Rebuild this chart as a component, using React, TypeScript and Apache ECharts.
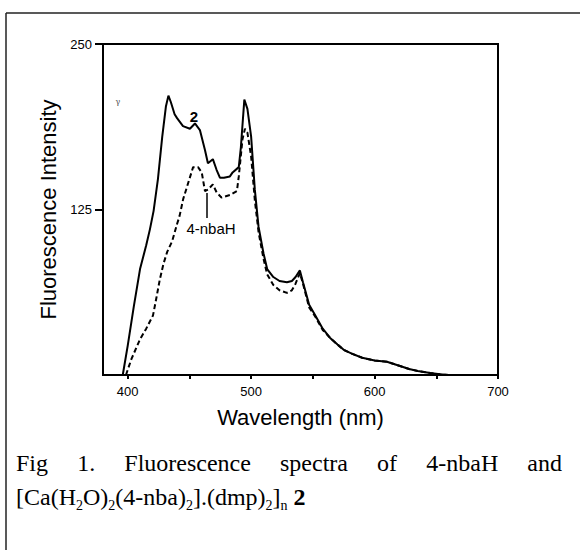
import React, { useEffect, useRef } from "react";
import * as echarts from "echarts";

// Sample "2" (solid line)
const wl2 = [396, 400, 405, 410, 415, 418, 421, 424.5, 428, 431, 433, 435, 438, 440, 444.8, 450.4, 454.5, 458.5, 462.6, 465, 469, 472, 474.7, 478, 482.8, 485, 490, 491.7, 494.5, 497, 500, 503, 506, 510, 513, 518, 523, 529, 533, 536, 539.5, 542, 547, 552, 558, 564, 570, 575, 582, 590, 600, 610, 620, 628, 635, 645, 653, 660, 700];
const int2 = [0, 22, 52, 80, 98, 110, 124, 148, 180, 203, 211, 206, 197, 194, 188, 186, 190, 185, 170, 160, 163, 155, 149, 149, 150, 153, 157, 172, 208, 201, 180, 140, 112, 92, 80, 74, 71, 70, 71, 74, 79, 70, 53, 45, 35, 28, 23, 19, 16, 13, 11, 10, 7, 4.5, 3, 1.5, 0.5, 0, 0];

// 4-nbaH (dashed line)
const wlNba = [398.6, 403, 410, 415, 420.5, 423, 426, 429, 432, 436, 440, 442, 445, 448, 453, 457, 460, 462.6, 465, 469, 472, 476, 483, 488.5, 490, 493, 495, 497, 500, 503, 506, 510, 513, 518, 523, 529, 533, 536, 539.5, 542, 547, 552, 558, 564, 570, 575, 582, 590, 600, 610, 620, 628, 635, 645, 653, 660, 700];
const intNba = [0, 12, 27, 35, 45, 57, 72, 84, 93, 101, 114, 120, 133, 142, 157, 157, 153, 139, 140, 144, 138, 134, 136, 139, 150, 178, 186, 183, 165, 132, 108, 88, 76, 68, 64, 62, 64, 69, 77, 69, 51, 44, 34, 28, 23, 19, 16, 13, 11, 10, 7, 4.5, 3, 1.5, 0.5, 0, 0];

const xLabelValues = [400, 500, 600, 700];
const xTickValues = [400, 450, 500, 550, 600, 650, 700];
const yLabelValues = [125, 250];

const captionLine1 = ["Fig", "1.", "Fluorescence", "spectra", "of", "4-nbaH", "and"];

export default function App() {
  const ref = useRef<HTMLDivElement>(null);
  useEffect(() => {
    if (!ref.current) return;
    const chart = echarts.init(ref.current, null, { renderer: "svg" });

    const capFont = "Liberation Serif";
    const capSize = 24;
    const canvas = document.createElement("canvas");
    const ctx = canvas.getContext("2d")!;
    ctx.font = `${capSize}px "${capFont}"`;
    const widths = captionLine1.map((w) => ctx.measureText(w).width);
    const left = 16, right = 562;
    const total = widths.reduce((a, b) => a + b, 0);
    const gap = (right - left - total) / (captionLine1.length - 1);
    let cx = left;
    const wordEls: any[] = captionLine1.map((w, i) => {
      const el = {
        type: "text",
        x: cx,
        y: 463,
        style: { text: w, font: `${capSize}px "${capFont}"`, fill: "#000", verticalAlign: "middle", align: "left" },
      };
      cx += widths[i] + gap;
      return el;
    });

    const option: any = {
      animation: false,
      backgroundColor: "#fff",
      grid: { left: 103, right: 82, top: 44, bottom: 175, show: true, borderColor: "#000", borderWidth: 2, backgroundColor: "transparent" },
      xAxis: {
        type: "value",
        min: 380,
        max: 700,
        name: "Wavelength (nm)",
        nameLocation: "middle",
        nameGap: 31,
        nameTextStyle: { fontFamily: "Liberation Sans", fontSize: 22, color: "#000" },
        axisLine: { lineStyle: { color: "#000", width: 2 } },
        axisTick: { show: true, inside: false, length: 4, customValues: xTickValues, lineStyle: { color: "#000", width: 2 } },
        axisLabel: { customValues: xLabelValues, margin: 10, fontFamily: "Liberation Sans", fontSize: 13, color: "#000" },
        splitLine: { show: false },
      },
      yAxis: {
        type: "value",
        min: 0,
        max: 250,
        name: "Fluorescence Intensity",
        nameLocation: "middle",
        nameGap: 44,
        nameTextStyle: { fontFamily: "Liberation Sans", fontSize: 22, color: "#000" },
        axisLine: { lineStyle: { color: "#000", width: 2 } },
        axisTick: { show: true, length: 8, customValues: yLabelValues, lineStyle: { color: "#000", width: 2 } },
        axisLabel: { customValues: yLabelValues, margin: 11, fontFamily: "Liberation Sans", fontSize: 13, color: "#000" },
        splitLine: { show: false },
      },
      series: [
        {
          name: "2",
          type: "line",
          data: wl2.map((x, i) => [x, int2[i]]),
          showSymbol: false,
          lineStyle: { color: "#000", width: 2 },
          z: 3,
        },
        {
          name: "4-nbaH",
          type: "line",
          data: wlNba.map((x, i) => [x, intNba[i]]),
          showSymbol: false,
          lineStyle: { color: "#000", width: 2, type: [5, 3] },
          z: 2,
        },
      ],
      graphic: [
        { type: "line", shape: { x1: 6, y1: 13, x2: 580, y2: 13 }, style: { stroke: "#222", lineWidth: 1.5 } },
        { type: "line", shape: { x1: 6, y1: 13, x2: 6, y2: 550 }, style: { stroke: "#222", lineWidth: 1.5 } },
        { type: "text", x: 118, y: 101, style: { text: "γ", font: '8px "DejaVu Serif"', fill: "#555", align: "center", verticalAlign: "middle" } },
        { type: "text", x: 194, y: 116, style: { text: "2", font: 'bold 15px "Liberation Sans"', fill: "#000", align: "center", verticalAlign: "middle" } },
        { type: "line", shape: { x1: 207, y1: 193, x2: 207, y2: 218 }, style: { stroke: "#000", lineWidth: 1.5 } },
        { type: "text", x: 211, y: 228, style: { text: "4-nbaH", font: '15px "Liberation Sans"', fill: "#000", align: "center", verticalAlign: "middle" } },
        ...wordEls,
        {
          type: "text",
          x: left,
          y: 497,
          style: {
            text: "{m|[Ca(H}{s|2}{m|O)}{s|2}{m|(4-nba)}{s|2}{m|].(dmp)}{s|2}{m|]}{s|n}{m| }{b|2}",
            verticalAlign: "middle",
            align: "left",
            rich: {
              m: { fontFamily: capFont, fontSize: capSize, color: "#000", lineHeight: 30 },
              s: { fontFamily: capFont, fontSize: 14, color: "#000", lineHeight: 15, verticalAlign: "bottom" },
              b: { fontFamily: capFont, fontSize: capSize, fontWeight: "bold", color: "#000", lineHeight: 30 },
            },
          },
        },
      ],
    };
    chart.setOption(option);
    return () => chart.dispose();
  }, []);
  return <div ref={ref} style={{ position: "fixed", left: 0, top: 0, width: 580, height: 550, background: "#fff" }} />;
}
